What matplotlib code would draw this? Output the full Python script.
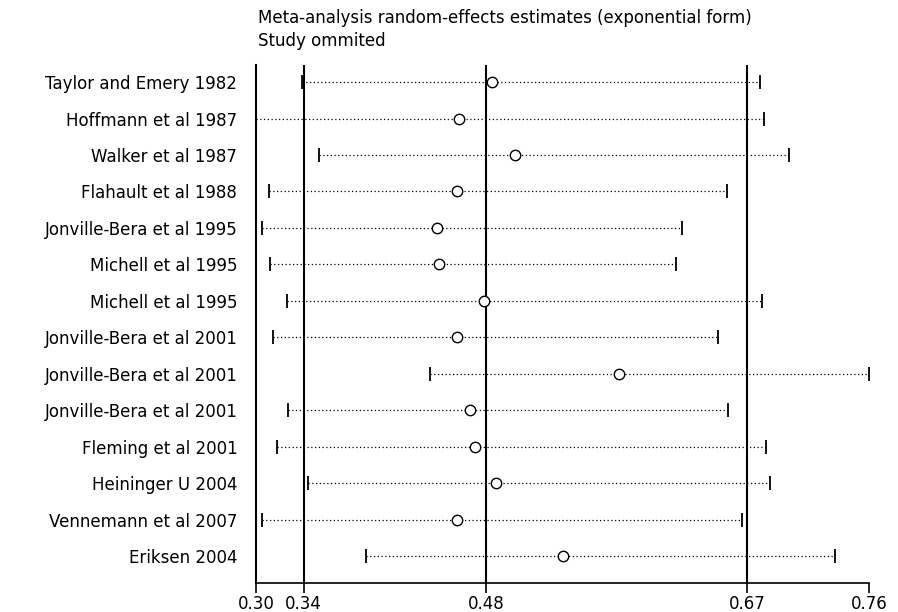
import numpy as np
import matplotlib
matplotlib.use("Agg")
import matplotlib.pyplot as plt

studies = ["Taylor and Emery 1982", "Hoffmann et al 1987", "Walker et al 1987",
           "Flahault et al 1988", "Jonville-Bera et al 1995", "Michell et al 1995",
           "Michell et al 1995", "Jonville-Bera et al 2001", "Jonville-Bera et al 2001",
           "Jonville-Bera et al 2001", "Fleming et al 2001", "Heininger U 2004",
           "Vennemann et al 2007", "Eriksen 2004"]
estimate = [0.4797, 0.4550, 0.4969, 0.4535, 0.4386, 0.4401, 0.4737,
            0.4535, 0.5746, 0.4633, 0.4670, 0.4827, 0.4535, 0.5327]
lower = [0.3375, 0.3034, 0.3505, 0.3131, 0.3079, 0.3139, 0.3266,
         0.3161, 0.4334, 0.3273, 0.3191, 0.3422, 0.3079, 0.3856]
upper = [0.6799, 0.6829, 0.7016, 0.6552, 0.6216, 0.6171, 0.6814,
         0.6485, 0.7611, 0.6560, 0.6844, 0.6874, 0.6664, 0.7359]

# pooled estimate and CI (vertical lines)
pooled = [0.3389, 0.4750, 0.6700]
tick_vals = [min(lower), pooled[0], pooled[1], pooled[2], max(upper)]
tick_labels = ["0.30", "0.34", "0.48", "0.67", "0.76"]

plt.rcParams['font.family'] = ['DejaVu Sans']
fs = 12

fig = plt.figure(figsize=(8.98, 6.12), dpi=100)
ax = fig.add_axes([0.2851, 0.0474, 0.6826, 0.8464])

rows = np.arange(1, len(studies) + 1)
for r, lo, hi, est in zip(rows, lower, upper, estimate):
    ax.plot([lo, hi], [r, r], color='black', lw=0.9, ls=(0, (1, 2)))
    ax.plot([lo, hi], [r, r], ls='none', marker='|', ms=10, mew=1.3, color='black')
    ax.plot(est, r, marker='o', ms=7.5, mfc='white', mec='black', mew=1)

for v in pooled:
    ax.axvline(v, color='black', lw=1.5, zorder=0)

ax.set_xlim(min(lower), max(upper))
ax.set_ylim(len(studies) + 0.74, 0.53)
ax.set_yticks(rows)
ax.set_yticklabels(studies, fontsize=fs)
ax.tick_params(axis='y', length=0, pad=13.5)
ax.set_xticks(tick_vals)
ax.set_xticklabels(tick_labels, fontsize=fs)
ax.tick_params(axis='x', length=7.5, width=1.2, pad=1)

for s in ['top', 'right']:
    ax.spines[s].set_visible(False)
ax.spines['left'].set_linewidth(1.5)
ax.spines['bottom'].set_linewidth(1.2)

fig.text(258 / 898, 1 - 18 / 612, "Meta-analysis random-effects estimates (exponential form)",
         ha='left', va='center', fontsize=fs)
fig.text(258 / 898, 1 - 41 / 612, "Study ommited", ha='left', va='center', fontsize=fs)

fig.savefig("out.png", dpi=100)
